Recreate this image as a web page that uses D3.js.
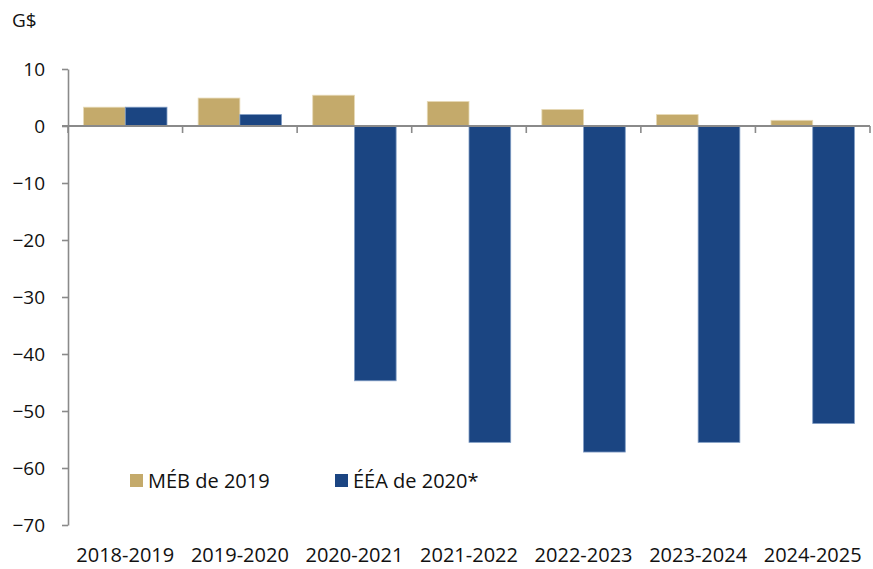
<!DOCTYPE html>
<html>
<head>
<meta charset="utf-8">
<script src="https://cdn.jsdelivr.net/npm/d3@7"></script>
<style>
  body { margin: 0; background: #fff; }
  text { font-family: "Open Sans", "Noto Sans", sans-serif; fill: #111; }
</style>
</head>
<body>
<div id="chart-area"></div>
<script>

// Data
var years = ["2018-2019", "2019-2020", "2020-2021", "2021-2022", "2022-2023", "2023-2024", "2024-2025"];
var meb2019 = [3.3, 4.9, 5.4, 4.3, 2.9, 2.0, 1.0];
var eea2020 = [3.3, 2.0, -44.7, -55.5, -57.2, -55.5, -52.2];
var seriesNames = ["MÉB de 2019", "ÉÉA de 2020*"];
var yTicks = [10, 0, -10, -20, -30, -40, -50, -60, -70];

// SVG Size
var width = 873,
    height = 569;

var colors = ["#C4AA6B", "#1B4582"];
var axisColor = "#8a8a8a";

var svg = d3.select("#chart-area").append("svg")
    .attr("width", width)
    .attr("height", height);

// Scales
var y = d3.scaleLinear()
    .domain([-70, 10])
    .range([525, 69]);

var x = d3.scaleBand()
    .domain(years)
    .range([68, 870])
    .paddingInner(0.272)
    .paddingOuter(0.136);

var xSub = d3.scaleBand()
    .domain([0, 1])
    .range([0, x.bandwidth()]);

// Bars
var groups = svg.selectAll("g.year")
    .data(years)
    .enter()
    .append("g")
    .attr("class", "year")
    .attr("transform", function(d){ return "translate(" + x(d) + ",0)"; });

groups.selectAll("rect")
    .data(function(d, i){ return [meb2019[i], eea2020[i]]; })
    .enter()
    .append("rect")
    .attr("x", function(d, j){ return xSub(j); })
    .attr("width", xSub.bandwidth())
    .attr("y", function(d){ return y(Math.max(0, d)); })
    .attr("height", function(d){ return Math.abs(y(d) - y(0)); })
    .attr("fill", function(d, j){ return colors[j]; })
    .attr("stroke", function(d, j){ return j == 0 ? "#e6d9b5" : "#7f9cc4"; })
    .attr("stroke-width", 0.8);

// Y axis
var yAxis = d3.axisLeft(y)
    .tickValues(yTicks)
    .tickSize(6)
    .tickSizeOuter(0)
    .tickPadding(17);

var gy = svg.append("g")
    .attr("transform", "translate(68,0)")
    .call(yAxis);
gy.selectAll("path, line").attr("stroke", axisColor).attr("stroke-width", 1.6);
gy.selectAll("text").style("font-size", "19px").attr("fill", "#111");

// X axis line at zero with boundary ticks
svg.append("line")
    .attr("x1", 62).attr("x2", 870)
    .attr("y1", y(0)).attr("y2", y(0))
    .attr("stroke", axisColor)
    .attr("stroke-width", 2);

var bounds = d3.range(years.length + 1).map(function(i){ return x.range()[0] + i * x.step(); });
svg.selectAll("line.xtick")
    .data(bounds)
    .enter()
    .append("line")
    .attr("class", "xtick")
    .attr("x1", function(d){ return d; })
    .attr("x2", function(d){ return d; })
    .attr("y1", y(0))
    .attr("y2", y(0) + 7)
    .attr("stroke", axisColor)
    .attr("stroke-width", 1.6);

// Category labels
svg.selectAll("text.xlabel")
    .data(years)
    .enter()
    .append("text")
    .attr("class", "xlabel")
    .attr("x", function(d){ return x(d) + x.bandwidth() / 2; })
    .attr("y", 562)
    .attr("text-anchor", "middle")
    .style("font-size", "20px")
    .text(function(d){ return d; });

// Unit label
svg.append("text")
    .attr("x", 12)
    .attr("y", 27)
    .style("font-size", "19px")
    .text("G$");

// Legend
var legendX = [130, 335];
var legend = svg.selectAll("g.legend")
    .data(seriesNames)
    .enter()
    .append("g")
    .attr("class", "legend")
    .attr("transform", function(d, i){ return "translate(" + legendX[i] + ",474)"; });

legend.append("rect")
    .attr("width", 13)
    .attr("height", 13)
    .attr("fill", function(d, i){ return colors[i]; });

legend.append("text")
    .attr("x", 18)
    .attr("y", 13.5)
    .style("font-size", "20px")
    .text(function(d){ return d; });

</script>
</body>
</html>
